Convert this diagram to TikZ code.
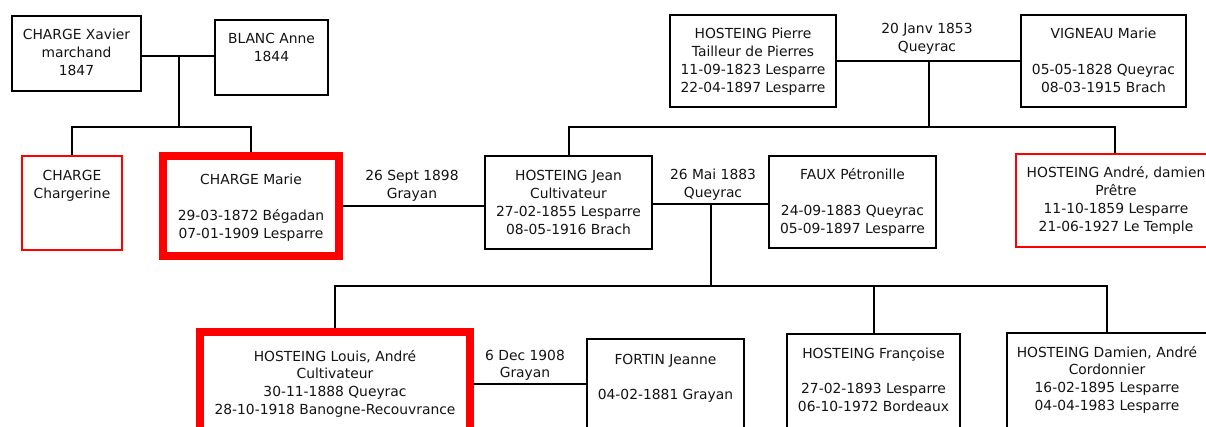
\documentclass[tikz,border=0pt]{standalone}
\usepackage{fontspec}
\setmainfont{DejaVu Sans}
\begin{document}
\begin{tikzpicture}[x=1pt,y=-1pt,
  pbox/.style={draw=black,line width=2pt,rectangle,inner sep=0pt,fill=white},
  rbox/.style={draw=red,line width=2pt,rectangle,inner sep=0pt,fill=white},
  rthick/.style={draw=red,line width=8.5pt,rectangle,inner sep=0pt,fill=white},
  ptxt/.style={align=center,anchor=base,inner sep=0pt,text=black!92,font=\fontsize{13.85}{17.7}\selectfont},
  link/.style={draw=black,line width=2pt}]
\useasboundingbox (0,0) rectangle (1206,427);
\fill[white] (0,0) rectangle (1206,427);
\clip (0,0) rectangle (1206,427);
% coordinates of the joints
\coordinate (m1) at (179,56);
\coordinate (j1) at (179,127);
\coordinate (m2) at (929,61);
\coordinate (j2) at (929,127);
\coordinate (m3) at (711,204);
\coordinate (j3) at (711,286);
\coordinate (m4) at (525,384);
\coordinate (m5) at (412,206);
% boxes
\node[pbox,minimum width=129,minimum height=75] (xavier) at (76.5,53.5) {};
\node[pbox,minimum width=113,minimum height=75] (blanc) at (271.5,57.5) {};
\node[rbox,minimum width=100,minimum height=94] (chargerine) at (72,203) {};
\node[rthick,minimum width=176,minimum height=100] (marie) at (251,206) {};
\node[pbox,minimum width=167,minimum height=93] (jean) at (568.5,202.5) {};
\node[pbox,minimum width=167,minimum height=92] (faux) at (852.5,202) {};
\node[pbox,minimum width=166,minimum height=92] (pierre) at (753,61) {};
\node[pbox,minimum width=165,minimum height=92] (vigneau) at (1103.5,61) {};
\node[rbox,minimum width=198,minimum height=93] (andre) at (1115,200.5) {};
\node[rthick,minimum width=270,minimum height=108] (louis) at (335,386) {};
\node[pbox,minimum width=157,minimum height=101] (fortin) at (665.5,389.5) {};
\node[pbox,minimum width=173,minimum height=106] (francoise) at (873.5,387) {};
\node[pbox,minimum width=200,minimum height=107] (damien) at (1107,386.5) {};
% connectors
\draw[link] (xavier.east |- m1) -- (blanc.west |- m1);
\draw[link] (m1) -- (j1);
\draw[link] (chargerine.north) |- (j1) -| (marie.north);
\draw[link] (pierre.east |- m2) -- (vigneau.west |- m2);
\draw[link] (m2) -- (j2);
\draw[link] (jean.north) |- (j2) -| (andre.north);
\draw[link] (marie.east |- m5) -- (jean.west |- m5);
\draw[link] (jean.east |- m3) -- (faux.west |- m3);
\draw[link] (m3) -- (j3);
\draw[link] (louis.north) |- (j3) -| (damien.north);
\draw[link] (francoise.north) -- (francoise.north |- j3);
\draw[link] (louis.east |- m4) -- (fortin.west |- m4);
% redraw thick borders on top
\node[rthick,fill=none,minimum width=176,minimum height=100] at (251,206) {};
\node[rthick,fill=none,minimum width=270,minimum height=108] at (335,386) {};
% texts (anchor = baseline of the last line)
\node[ptxt] (txavier) at (76.5,75.4) {CHARGE Xavier\\marchand\\1847};
\node[ptxt] (tblanc) at (271.5,61.7) {BLANC Anne\\1844};
\node[ptxt] (tchargerine) at (72,198.7) {CHARGE\\Chargerine};
\node[ptxt] (tmarie) at (251,238.1) {CHARGE Marie\\[17.7pt]29-03-1872 Bégadan\\07-01-1909 Lesparre};
\node[ptxt] (tjean) at (568.5,234.1) {HOSTEING Jean\\Cultivateur\\27-02-1855 Lesparre\\08-05-1916 Brach};
\node[ptxt] (tfaux) at (852.5,233.1) {FAUX Pétronille\\[17.7pt]24-09-1883 Queyrac\\05-09-1897 Lesparre};
\node[ptxt] (tpierre) at (753,92.1) {HOSTEING Pierre\\Tailleur de Pierres\\11-09-1823 Lesparre\\22-04-1897 Lesparre};
\node[ptxt] (tvigneau) at (1103.5,92.1) {VIGNEAU Marie\\[17.7pt]05-05-1828 Queyrac\\08-03-1915 Brach};
\node[ptxt] (tandre) at (1116,231.1) {HOSTEING André, damien\\Prêtre\\11-10-1859 Lesparre\\21-06-1927 Le Temple};
\node[ptxt] (tlouis) at (335,414.1) {HOSTEING Louis, André\\Cultivateur\\30-11-1888 Queyrac\\28-10-1918 Banogne-Recouvrance};
\node[ptxt] (tfortin) at (665.5,399.4) {FORTIN Jeanne\\[17.7pt]04-02-1881 Grayan};
\node[ptxt] (tfrancoise) at (873.5,411.1) {HOSTEING Françoise\\[17.7pt]27-02-1893 Lesparre\\06-10-1972 Bordeaux};
\node[ptxt] (tdamien) at (1107,410.1) {HOSTEING Damien, André\\Cordonnier\\16-02-1895 Lesparre\\04-04-1983 Lesparre};
% marriage labels
\node[ptxt] (l1) at (412,198.7) {26 Sept 1898\\Grayan};
\node[ptxt] (l2) at (713,197.7) {26 Mai 1883\\Queyrac};
\node[ptxt] (l3) at (927,51.7) {20 Janv 1853\\Queyrac};
\node[ptxt] (l4) at (525,377.7) {6 Dec 1908\\Grayan};
\end{tikzpicture}
\end{document}
